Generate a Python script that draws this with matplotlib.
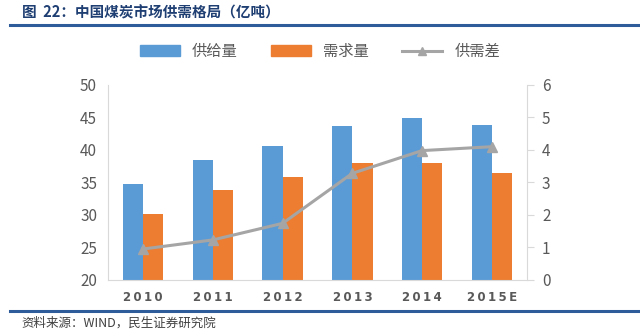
import numpy as np
import matplotlib.pyplot as plt
from matplotlib.lines import Line2D

plt.rcParams['font.family'] = ['Noto Sans CJK SC', 'DejaVu Sans']

years = ['2010', '2011', '2012', '2013', '2014', '2015E']
supply = [34.8, 38.45, 40.6, 43.75, 44.9, 43.85]
demand = [30.1, 33.9, 35.9, 37.95, 38.05, 36.5]
gap = [0.95, 1.23, 1.74, 3.28, 3.98, 4.1]

blue = '#5B9BD5'
orange = '#ED7D31'
grey = '#A5A5A5'
tick_c = '#595959'

fig = plt.figure(figsize=(6.4, 3.32), dpi=100)
ax = fig.add_axes([0.169, 0.157, 0.654, 0.587])
ax2 = ax.twinx()

ind = np.arange(len(years))
width = 0.29
ax.bar(ind - width / 2, supply, width, color=blue, label='供给量', zorder=2)
ax.bar(ind + width / 2, demand, width, color=orange, label='需求量', zorder=2)
ax2.plot(ind, gap, color=grey, lw=2.2, marker='^', ms=7, label='供需差')

ax.set_xlim(-0.5, len(years) - 0.5)
ax.set_ylim(20, 50)
ax.set_yticks(np.arange(20, 51, 5))
ax2.set_ylim(0, 6)
ax2.set_yticks(np.arange(0, 7, 1))
ax.set_xticks(ind)
# letter-spaced year labels like the original
ax.set_xticklabels(['\u2009'.join(y) for y in years], family=['DejaVu Sans'])

for a in (ax, ax2):
    for s in a.spines.values():
        s.set_visible(False)
ax.spines['left'].set_visible(True)
ax.spines['left'].set_color('#D9D9D9')
ax.spines['bottom'].set_visible(True)
ax.spines['bottom'].set_color('#D9D9D9')
ax2.spines['right'].set_visible(True)
ax2.spines['right'].set_color('#D9D9D9')

ax.tick_params(axis='y', length=0, labelsize=11, labelcolor=tick_c, pad=8)
ax.tick_params(axis='x', length=0, labelsize=8.5, labelcolor=tick_c, pad=8)
ax2.tick_params(axis='y', length=5, color='#D9D9D9', labelsize=11, labelcolor=tick_c, pad=6)
for t in ax.get_xticklabels():
    t.set_fontweight('bold')

handles = [plt.Rectangle((0, 0), 1, 1, color=blue),
           plt.Rectangle((0, 0), 1, 1, color=orange),
           Line2D([], [], color=grey, lw=2.2, marker='^', ms=6)]
fig.legend(handles, ['供给量', '需求量', '供需差'], loc='center', bbox_to_anchor=(0.5, 0.845),
           ncol=3, frameon=False, fontsize=11, handlelength=2.6, handleheight=0.7,
           columnspacing=2.2, labelcolor=tick_c)

fig.text(0.034, 0.962, '图  22：中国煤炭市场供需格局（亿吨）', fontsize=10.5, fontweight='bold',
         color='#1F3F73', va='center')
fig.add_artist(Line2D([0.016, 1.0], [0.925, 0.925], color='#2E5C9A', lw=2.2))
fig.add_artist(Line2D([0.016, 1.0], [0.063, 0.063], color='#2E5C9A', lw=2.2))
fig.text(0.034, 0.028, '资料来源：WIND，民生证券研究院', fontsize=9, color='#404040', va='center')

fig.savefig('out.png', dpi=100)
